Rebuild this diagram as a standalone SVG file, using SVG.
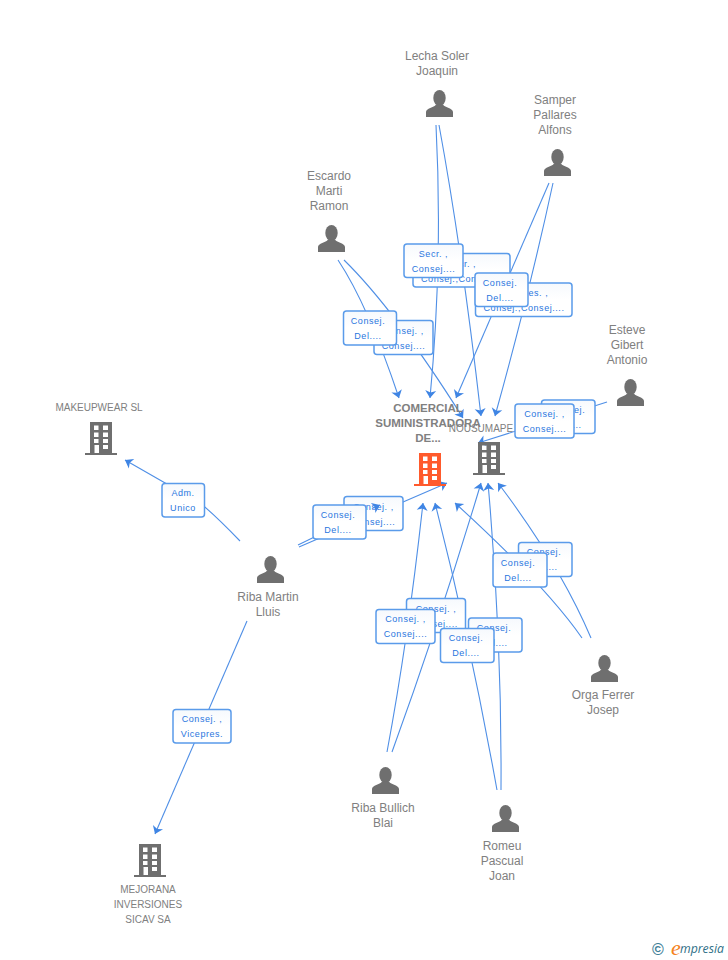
<svg xmlns="http://www.w3.org/2000/svg" width="728" height="960" viewBox="0 0 728 960">
<style>
.c path{fill:none;stroke:#4f8fe6;stroke-width:1.1;marker-end:url(#a)}
.l rect{fill:url(#g);stroke:#5a9bea;stroke-width:1.5}
.l text{font:9px "Liberation Sans",Arial,sans-serif;letter-spacing:.55px;fill:#2a76de;text-anchor:middle}
.n text{font:12px "Liberation Sans",Arial,sans-serif;fill:#808080;text-anchor:middle}
.n text.s{font-size:10px}
.n text.b{font-size:11.500px;font-weight:bold;fill:#808080}
.p{fill:#6f6f6f}
.o{fill:#6f6f6f}
.r{fill:#ff5a2c}
</style>
<defs>
<marker id="a" markerUnits="userSpaceOnUse" markerWidth="10" markerHeight="14" viewBox="-8 -7 9 14" refX="0" refY="0" orient="auto"><path d="M0,0L-7.5,-5.500L-5.500,0L-7.500,5.500Z" fill="#3f85e4"/></marker>
<linearGradient id="g" x1="0" y1="0" x2="0" y2="1"><stop offset="0" stop-color="#f6f9fd"/><stop offset=".5" stop-color="#fff"/></linearGradient>
<g id="person"><ellipse cx="13.5" cy="8" rx="6.2" ry="8"/><path d="M0,27V22C0,18 8,18 10,14.5H17C19,18 27,18 27,22V27Z"/></g>
<g id="bld"><path fill-rule="evenodd" d="M5,0H27V31H32V33H0V31H5ZM9,3.5V8H13.5V3.5ZM18,3.5V8H23V3.5ZM9,10.5V15H13.5V10.5ZM18,10.5V15H23V10.5ZM9,17V21H13.5V17ZM18,17V21H23V17ZM9.5,23V31H14V23ZM18,23V27H23V23Z"/></g>
</defs>
<g id="connectors" class="c">
<path d="M436,125Q443,260 430,398"/>
<path d="M439,125Q462,250 481,416"/>
<path d="M549,183L456,398"/>
<path d="M553,183Q530,290 495,416"/>
<path d="M338,260Q368,305 399,398"/>
<path d="M344,260Q395,310 463,418"/>
<path d="M607,402L478,443"/>
<path d="M299,547L447,483"/>
<path d="M298,545L380,505"/>
<path d="M240,541Q215,515 200,503L125,460"/>
<path d="M247,621L155,834"/>
<path d="M387,752Q408,640 423,503"/>
<path d="M392,752Q440,620 481,483"/>
<path d="M497,790Q470,640 435,503"/>
<path d="M501,790Q502,640 488,483"/>
<path d="M582,638Q545,585 455,503"/>
<path d="M591,638Q560,565 498,483"/>
</g>
<g id="nousumape" class="n"><use href="#bld" class="o" x="473" y="442"/><text class="s" x="489" y="432">NOUSUMAPE SA</text></g>
<g id="labels" class="l">
<g><rect x="162" y="483.500" width="42.500" height="33.500" rx="3"/><text x="183" y="496">Adm.</text><text x="183" y="511">Unico</text></g>
<g><rect x="173" y="709.500" width="58" height="33.500" rx="3"/><text x="202" y="722">Consej. ,</text><text x="202" y="737">Vicepres.</text></g>
<g><rect x="413" y="253.500" width="97" height="33.500" rx="3"/><text x="461.500" y="267">Secr. ,</text><text x="461.500" y="282">Consej.,Consej....</text></g>
<g><rect x="475.500" y="283" width="96.500" height="33.500" rx="3"/><text x="524" y="296">Vicepres. ,</text><text x="524" y="311">Consej.,Consej....</text></g>
<g><rect x="404" y="244" width="59" height="33.500" rx="3"/><text x="433.500" y="257">Secr. ,</text><text x="433.500" y="272">Consej....</text></g>
<g><rect x="475" y="273" width="53" height="33.500" rx="3"/><text x="500" y="286">Consej.</text><text x="500" y="301">Del....</text></g>
<g><rect x="374" y="320.500" width="59" height="34" rx="3"/><text x="403.500" y="334">Consej. ,</text><text x="403.500" y="349">Consej....</text></g>
<g><rect x="343.500" y="311" width="53" height="34" rx="3"/><text x="368" y="324">Consej.</text><text x="368" y="339">Del....</text></g>
<g><rect x="541.500" y="400" width="53.500" height="33.500" rx="3"/><text x="568" y="413">Consej.</text><text x="568" y="428">Del....</text></g>
<g><rect x="515" y="404" width="59" height="34" rx="3"/><text x="544.500" y="417">Consej. ,</text><text x="544.500" y="432">Consej....</text></g>
<g><rect x="344" y="496.500" width="59" height="34" rx="3"/><text x="373.500" y="510">Consej. ,</text><text x="373.500" y="525">Consej....</text></g>
<g><rect x="313" y="505" width="53" height="34" rx="3"/><text x="338" y="518">Consej.</text><text x="338" y="533">Del....</text></g>
<g><rect x="518.500" y="542.500" width="53.500" height="34" rx="3"/><text x="544" y="555">Consej.</text><text x="544" y="570">Del....</text></g>
<g><rect x="493" y="553" width="54" height="34" rx="3"/><text x="518" y="566">Consej.</text><text x="518" y="581">Del....</text></g>
<g><rect x="406.500" y="598.500" width="59" height="34" rx="3"/><text x="436" y="612">Consej. ,</text><text x="436" y="627">Consej....</text></g>
<g><rect x="376" y="609.500" width="59" height="34" rx="3"/><text x="405.500" y="622">Consej. ,</text><text x="405.500" y="637">Consej....</text></g>
<g><rect x="468.500" y="618" width="53.500" height="34" rx="3"/><text x="494" y="631">Consej.</text><text x="494" y="646">Del....</text></g>
<g><rect x="440.500" y="628.500" width="53.500" height="34" rx="3"/><text x="466" y="641">Consej.</text><text x="466" y="656">Del....</text></g>
</g>
<g id="connector-tip" class="c"><path d="M372,508.500L380,505"/></g>
<g class="n">
<g id="lecha"><use href="#person" class="p" x="426" y="90"/><text x="437" y="60">Lecha Soler</text><text x="437" y="75">Joaquin</text></g>
<g id="samper"><use href="#person" class="p" x="544" y="149"/><text x="555" y="104">Samper</text><text x="555" y="119">Pallares</text><text x="555" y="134">Alfons</text></g>
<g id="escardo"><use href="#person" class="p" x="318" y="225"/><text x="329" y="180">Escardo</text><text x="329" y="195">Marti</text><text x="329" y="210">Ramon</text></g>
<g id="esteve"><use href="#person" class="p" x="617" y="379"/><text x="627" y="334">Esteve</text><text x="627" y="349">Gibert</text><text x="627" y="364">Antonio</text></g>
<g id="riba-martin"><use href="#person" class="p" x="257" y="556"/><text x="268" y="601">Riba Martin</text><text x="268" y="616">Lluis</text></g>
<g id="orga"><use href="#person" class="p" x="591" y="655"/><text x="603" y="699">Orga Ferrer</text><text x="603" y="714">Josep</text></g>
<g id="riba-bullich"><use href="#person" class="p" x="372" y="767"/><text x="383" y="812">Riba Bullich</text><text x="383" y="827">Blai</text></g>
<g id="romeu"><use href="#person" class="p" x="492" y="805"/><text x="502" y="850">Romeu</text><text x="502" y="865">Pascual</text><text x="502" y="880">Joan</text></g>
<g id="makeupwear"><use href="#bld" class="o" x="85" y="422"/><text class="s" x="99" y="411">MAKEUPWEAR SL</text></g>
<g id="mejorana"><use href="#bld" class="o" x="134" y="844"/><text class="s" x="148" y="893">MEJORANA</text><text class="s" x="148" y="908">INVERSIONES</text><text class="s" x="148" y="923">SICAV SA</text></g>
<g id="comercial"><use href="#bld" class="r" x="414" y="453"/><text class="b" x="428" y="412">COMERCIAL</text><text class="b" x="428" y="427">SUMINISTRADORA</text><text class="b" x="428" y="442">DE...</text></g>
</g>
<g id="logo">
<text x="658" y="954.500" text-anchor="middle" style="font:bold 16px 'Liberation Sans',Arial,sans-serif;fill:#3f7f98">©</text>
<text x="671" y="955" style="font:italic 22px 'Liberation Serif',serif;fill:#f58220">e</text>
<text x="680" y="953" style="font:italic 12px 'Open Sans',sans-serif;fill:#2f6f87" textLength="44" lengthAdjust="spacingAndGlyphs">mpresia</text>
</g>
</svg>
